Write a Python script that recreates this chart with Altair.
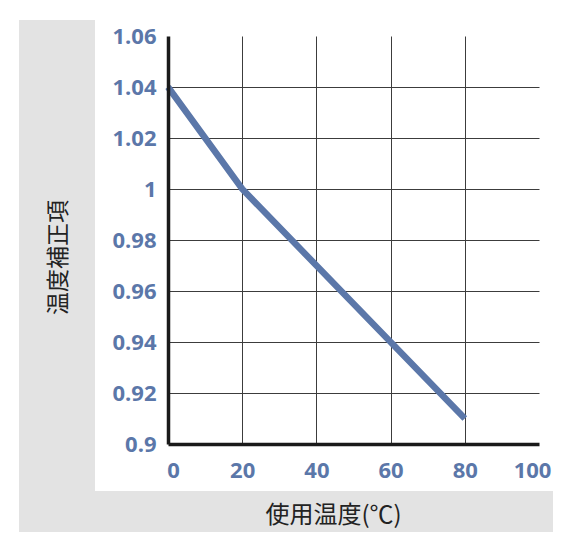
import altair as alt
import pandas as pd

# Data
temps = [0, 20, 40, 60, 80]
factors = [1.04, 1.00, 0.97, 0.94, 0.91]

x_ticks = [0, 20, 40, 60, 80, 100]
y_ticks = [0.9, 0.92, 0.94, 0.96, 0.98, 1.0, 1.02, 1.04, 1.06]
x_grid = [20, 40, 60, 80]
y_grid = [0.92, 0.94, 0.96, 0.98, 1.0, 1.02, 1.04]

x_title = "使用温度(℃)"
y_title = "温度補正項"

LINE_COLOR = "#5b77a9"
LABEL_COLOR = "#5b77a9"
FRAME_GRAY = "#e3e3e3"

df = pd.DataFrame({"temp": temps, "factor": factors})

W, H = 371, 408
PAD = {"left": 168, "top": 36, "right": 41, "bottom": 112}

xscale = alt.Scale(domain=[0, 100], nice=False)
yscale = alt.Scale(domain=[0.9, 1.06], nice=False, zero=False)

one = alt.Data(values=[{"k": 1}])

# gray L-shaped frame (decoration)
left_strip = alt.Chart(one).mark_rect(color=FRAME_GRAY).encode(
    x=alt.value(-149), x2=alt.value(-73), y=alt.value(-16), y2=alt.value(496)
)
bottom_strip = alt.Chart(one).mark_rect(color=FRAME_GRAY).encode(
    x=alt.value(-149), x2=alt.value(385), y=alt.value(455), y2=alt.value(496)
)

grid_common = dict(
    grid=True, labels=False, ticks=False, domain=False, title=None,
    gridColor="#3c3c3c", gridWidth=1, zindex=0,
)

line = alt.Chart(df).mark_line(color=LINE_COLOR, strokeWidth=6.5).encode(
    x=alt.X("temp:Q", scale=xscale,
            axis=alt.Axis(orient="top", values=x_grid, **grid_common)),
    y=alt.Y("factor:Q", scale=yscale,
            axis=alt.Axis(orient="right", values=y_grid, **grid_common)),
)

label_common = dict(
    grid=False, ticks=False, domain=True, domainColor="#1a1a1a", domainWidth=3.5,
    labelFont="Open Sans", labelFontSize=22, labelFontWeight="bold",
    labelColor=LABEL_COLOR, labelOverlap=False, labelFlush=False,
    titleFont="Noto Sans CJK JP", titleFontWeight="normal",
    titleColor="#222222", titleAlign="center", titleBaseline="middle",
    zindex=1,
)

x_label_offset = {
    "condition": [
        {"test": "datum.value == 0", "value": 5},
        {"test": "datum.value == 100", "value": -7},
    ],
    "value": 0,
}

axes_layer = alt.Chart(df).mark_point(opacity=0).encode(
    x=alt.X("temp:Q", scale=xscale,
            axis=alt.Axis(orient="bottom", values=x_ticks, title=x_title,
                          labelPadding=16, labelBaseline="top",
                          labelOffset=x_label_offset,
                          titleFontSize=24, titleX=165, titleY=71, **label_common)),
    y=alt.Y("factor:Q", scale=yscale,
            axis=alt.Axis(orient="left", values=y_ticks, title=y_title,
                          labelExpr="format(datum.value, '~g')",
                          labelPadding=12, labelAlign="right", labelBaseline="middle",
                          titleFontSize=23, titleX=-110, titleY=221, titleAngle=270,
                          **label_common)),
)

chart = (
    alt.layer(left_strip, bottom_strip, line, axes_layer)
    .resolve_axis(x="independent", y="independent")
    .properties(
        width=W, height=H, padding=PAD,
        autosize=alt.AutoSizeParams(type="none"),
        background="white",
    )
    .configure_view(strokeWidth=0)
)

chart.save("out.html", embed_options={"renderer": "svg", "actions": False})
